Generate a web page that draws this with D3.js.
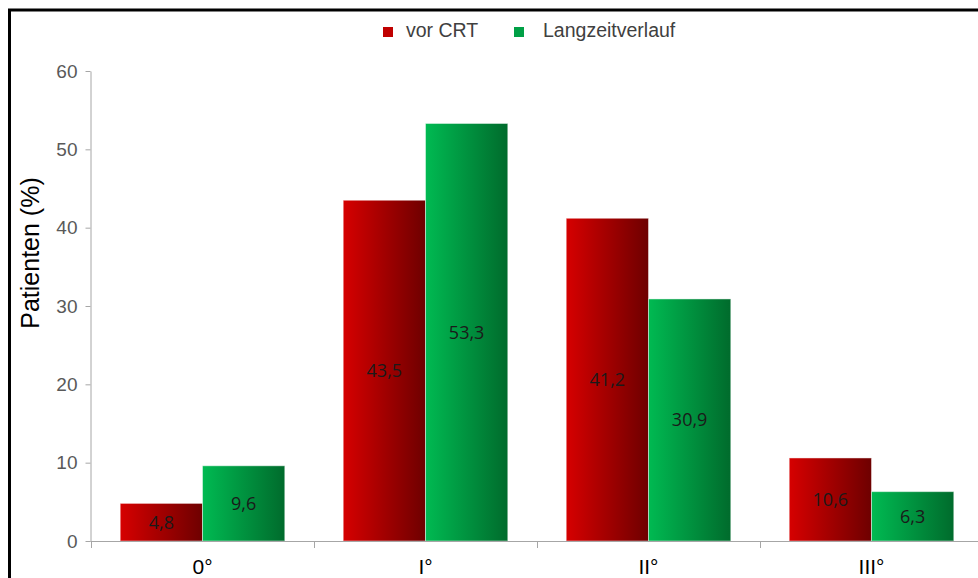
<!DOCTYPE html>
<html>
<head>
<meta charset="utf-8">
<script src="https://cdn.jsdelivr.net/npm/d3@7"></script>
<style>
  html, body { margin: 0; padding: 0; background: #fff; }
  svg { display: block; }
</style>
</head>
<body>
<script>
// Severity grades and patient shares (%) before CRT and at long-term follow-up
const categories = ["0°", "I°", "II°", "III°"];
const seriesNames = ["vor CRT", "Langzeitverlauf"];
const vorCRT = [4.8, 43.5, 41.2, 10.6];
const langzeit = [9.6, 53.3, 30.9, 6.3];
const yTicks = [0, 10, 20, 30, 40, 50, 60];

const W = 978, H = 578;
const svg = d3.select("body").append("svg").attr("width", W).attr("height", H);

// Gradients: bright on the left edge, dark on the right edge
const defs = svg.append("defs");
const grads = [
  { id: "gRed", from: "#d60000", to: "#6e0000" },
  { id: "gGreen", from: "#00ba52", to: "#006b2c" }
];
grads.forEach(g => {
  const lg = defs.append("linearGradient").attr("id", g.id)
    .attr("x1", "0%").attr("x2", "100%").attr("y1", "0%").attr("y2", "0%");
  lg.append("stop").attr("offset", "0%").attr("stop-color", g.from);
  lg.append("stop").attr("offset", "100%").attr("stop-color", g.to);
});
const fills = ["url(#gRed)", "url(#gGreen)"];
const legendColors = ["#c00000", "#00a046"];

// Outer frame (top and left edges visible)
svg.append("path")
  .attr("d", `M9.5,${H + 5} V10 H${W + 5}`)
  .attr("fill", "none").attr("stroke", "#000").attr("stroke-width", 3);

const x0 = d3.scaleBand().domain(categories).range([91, 983]).padding(0);
const x1 = d3.scaleBand().domain(seriesNames).range([0, x0.bandwidth()])
  .paddingInner(0).paddingOuter(0.355);
const y = d3.scaleLinear().domain([0, 60]).range([541, 71]);

const axisColor = "#a6a6a6";

// Y axis
const yAxis = svg.append("g").attr("transform", "translate(90.5,0)")
  .call(d3.axisLeft(y).tickValues(yTicks).tickSize(5).tickPadding(8).tickSizeOuter(0));
yAxis.select(".domain").attr("stroke", axisColor);
yAxis.selectAll(".tick line").attr("stroke", axisColor);
yAxis.selectAll(".tick text")
  .attr("fill", "#595959").attr("font-family", "Arial, 'Liberation Sans', sans-serif")
  .attr("font-size", 19);

// Y axis title
svg.append("text")
  .attr("transform", "translate(39,253) rotate(-90)")
  .attr("text-anchor", "middle")
  .attr("font-family", "Arial, 'Liberation Sans', sans-serif")
  .attr("font-size", 25).attr("fill", "#000")
  .text("Patienten (%)");

// Bars
const rows = categories.map((c, i) => ({ cat: c, vals: [vorCRT[i], langzeit[i]] }));
const groups = svg.append("g").selectAll("g").data(rows).join("g")
  .attr("transform", d => `translate(${x0(d.cat)},0)`);

groups.selectAll("rect").data(d => d.vals.map((v, k) => ({ v, k })))
  .join("rect")
  .attr("x", d => x1(seriesNames[d.k]))
  .attr("y", d => y(d.v))
  .attr("width", x1.bandwidth())
  .attr("height", d => y(0) - y(d.v))
  .attr("fill", d => fills[d.k])
  .attr("stroke", "rgba(255,255,255,0.45)")
  .attr("stroke-width", 1);

// Value labels centred in each bar
groups.selectAll("text").data(d => d.vals.map((v, k) => ({ v, k })))
  .join("text")
  .attr("x", d => x1(seriesNames[d.k]) + x1.bandwidth() / 2)
  .attr("y", d => (y(d.v) + y(0)) / 2)
  .attr("dy", "0.36em")
  .attr("text-anchor", "middle")
  .attr("font-family", "'Open Sans', sans-serif")
  .attr("font-size", 18)
  .attr("fill", "#1a1a1a")
  .text(d => d3.format(".1f")(d.v).replace(".", ","));

// X axis: baseline with ticks on category boundaries
const xAxis = svg.append("g");
xAxis.append("line")
  .attr("x1", 90.5).attr("x2", W + 10).attr("y1", 541.5).attr("y2", 541.5)
  .attr("stroke", axisColor);
const bounds = categories.map(c => x0(c)).concat([x0.range()[1]]);
xAxis.selectAll("line.tk").data(bounds).join("line").attr("class", "tk")
  .attr("x1", d => Math.round(d) + 0.5).attr("x2", d => Math.round(d) + 0.5)
  .attr("y1", 541.5).attr("y2", 548).attr("stroke", axisColor);
xAxis.selectAll("text").data(categories).join("text")
  .attr("x", d => x0(d) + x0.bandwidth() / 2)
  .attr("y", 574)
  .attr("text-anchor", "middle")
  .attr("font-family", "Arial, 'Liberation Sans', sans-serif")
  .attr("font-size", 21).attr("fill", "#000")
  .text(d => d);

// Legend
const legend = svg.append("g");
const legendItems = [
  { name: seriesNames[0], sx: 383, tx: 406 },
  { name: seriesNames[1], sx: 514, tx: 543 }
];
legendItems.forEach((it, i) => {
  legend.append("rect").attr("x", it.sx).attr("y", 27).attr("width", 10).attr("height", 10)
    .attr("fill", legendColors[i]);
  legend.append("text").attr("x", it.tx).attr("y", 37)
    .attr("font-family", "Arial, 'Liberation Sans', sans-serif")
    .attr("font-size", 19.5).attr("fill", "#404040")
    .text(it.name);
});
</script>
</body>
</html>
